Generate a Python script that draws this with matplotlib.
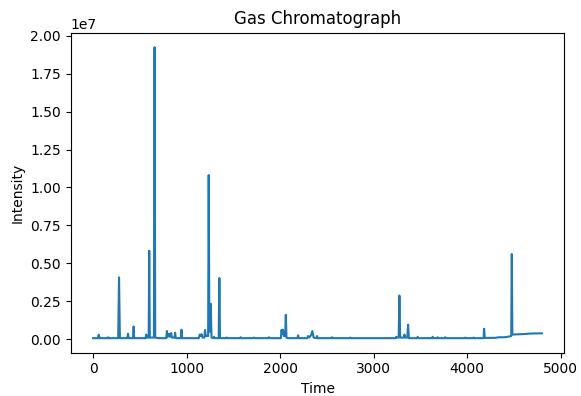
import matplotlib
matplotlib.use("Agg")
import matplotlib.pyplot as plt

# chromatogram points (time, intensity)
time = [0, 50, 60, 70, 155, 160, 165, 268, 277, 286, 365, 373, 381, 427, 433, 439,
        560, 568, 575, 594, 600, 606, 650, 657, 664, 700, 782, 789, 796, 812, 820,
        835, 842, 870, 877, 884, 938, 945, 952, 1130, 1140, 1150, 1160, 1170, 1190,
        1197, 1204, 1230, 1236, 1243, 1250, 1258, 1266, 1285, 1293, 1300, 1343, 1350,
        1357, 1420, 1428, 1436, 1572, 1578, 1585, 1713, 1720, 1727, 1873, 1880, 1887,
        2008, 2015, 2022, 2030, 2040, 2054, 2061, 2068, 2080, 2185, 2192, 2199, 2290,
        2299, 2310, 2330, 2345, 2358, 2388, 2395, 2402, 2548, 2554, 2560, 2744, 2750,
        2756, 3235, 3241, 3250, 3268, 3276, 3284, 3323, 3330, 3337, 3360, 3369, 3377,
        3465, 3471, 3477, 3625, 3631, 3637, 3680, 3685, 3690, 3760, 3766, 3772, 3975,
        3980, 3985, 4063, 4069, 4075, 4176, 4182, 4188, 4300, 4342, 4400, 4431, 4460,
        4472, 4478, 4484, 4600, 4700, 4800]
intensity = [0.06e6, 0.06e6, 0.29e6, 0.06e6, 0.06e6, 0.12e6, 0.06e6, 0.06e6, 4.07e6, 0.06e6,
             0.06e6, 0.35e6, 0.06e6, 0.06e6, 0.83e6, 0.06e6, 0.06e6, 0.3e6, 0.1e6, 0.1e6,
             5.83e6, 0.1e6, 0.1e6, 19.25e6, 0.1e6, 0.06e6, 0.06e6, 0.53e6, 0.15e6, 0.35e6,
             0.15e6, 0.4e6, 0.1e6, 0.1e6, 0.42e6, 0.06e6, 0.06e6, 0.62e6, 0.06e6, 0.06e6,
             0.3e6, 0.2e6, 0.32e6, 0.1e6, 0.1e6, 0.6e6, 0.2e6, 0.2e6, 10.82e6, 0.5e6,
             0.5e6, 2.33e6, 0.1e6, 0.06e6, 0.15e6, 0.06e6, 0.06e6, 4.03e6, 0.06e6, 0.06e6,
             0.1e6, 0.06e6, 0.06e6, 0.12e6, 0.06e6, 0.06e6, 0.1e6, 0.06e6, 0.06e6, 0.12e6,
             0.06e6, 0.06e6, 0.6e6, 0.35e6, 0.62e6, 0.2e6, 0.2e6, 1.6e6, 0.1e6, 0.06e6,
             0.06e6, 0.25e6, 0.06e6, 0.06e6, 0.2e6, 0.1e6, 0.25e6, 0.53e6, 0.1e6, 0.06e6,
             0.2e6, 0.06e6, 0.06e6, 0.12e6, 0.06e6, 0.06e6, 0.1e6, 0.06e6, 0.06e6, 0.15e6,
             0.1e6, 0.1e6, 2.87e6, 0.1e6, 0.1e6, 0.3e6, 0.1e6, 0.1e6, 0.95e6, 0.06e6,
             0.06e6, 0.15e6, 0.06e6, 0.06e6, 0.15e6, 0.06e6, 0.06e6, 0.12e6, 0.06e6, 0.06e6,
             0.12e6, 0.06e6, 0.06e6, 0.1e6, 0.06e6, 0.06e6, 0.1e6, 0.06e6, 0.06e6, 0.68e6,
             0.08e6, 0.08e6, 0.12e6, 0.12e6, 0.15e6, 0.18e6, 0.2e6, 5.61e6, 0.3e6, 0.33e6,
             0.37e6, 0.38e6]

fig = plt.figure(figsize=(5.81, 3.96), dpi=100)
fig.subplots_adjust(left=0.1217, right=0.9713, top=0.9174, bottom=0.1093)
ax = fig.add_subplot(111)
ax.plot(time, intensity)
ax.set_title("Gas Chromatograph")
ax.set_xlabel("Time")
ax.set_ylabel("Intensity")
fig.savefig("out.png", dpi=100)
